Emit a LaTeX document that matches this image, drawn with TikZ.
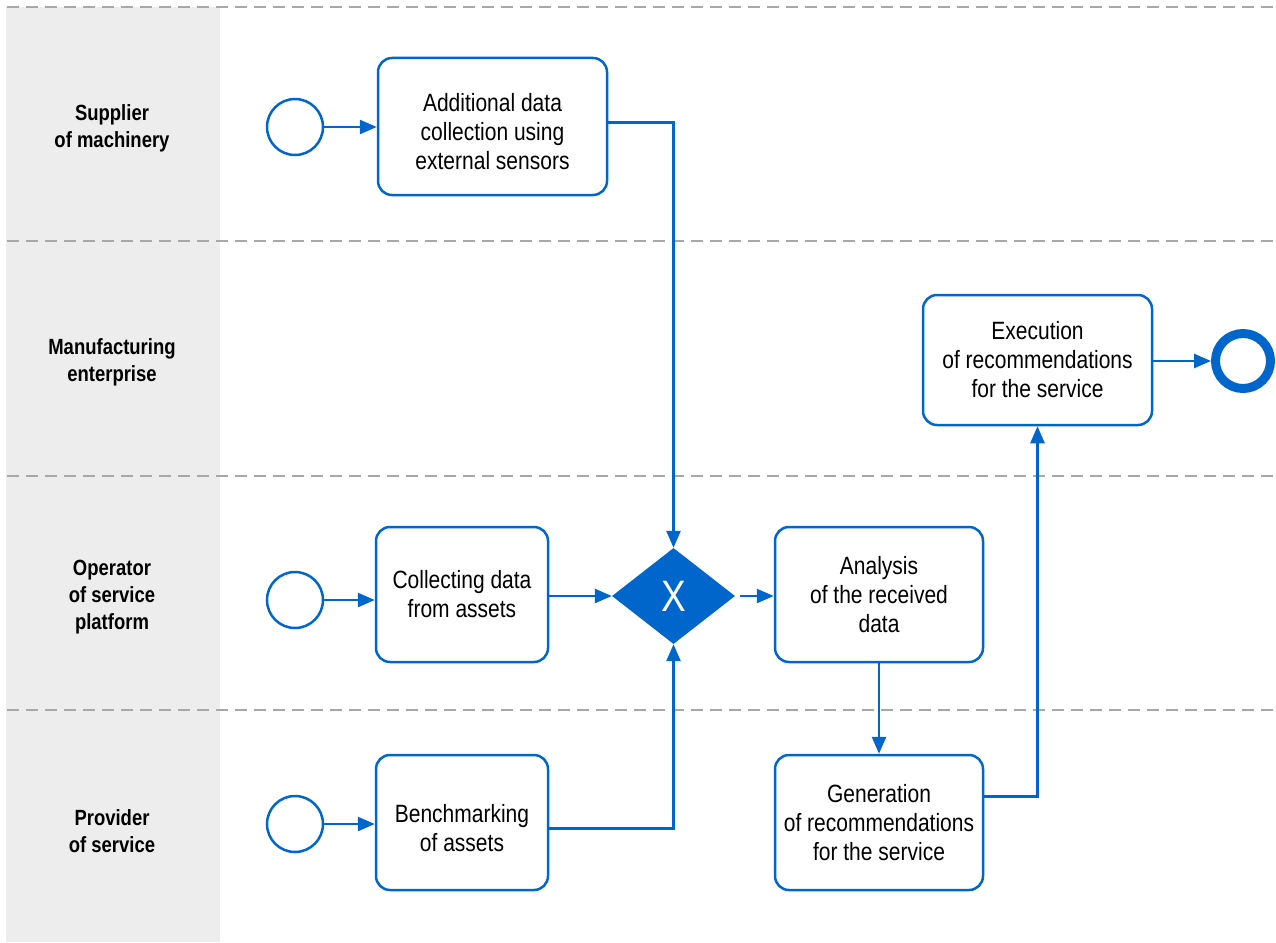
\documentclass[tikz,border=0pt]{standalone}
\usepackage{fontspec}
\setmainfont{Liberation Sans}[FakeStretch=0.84]
\usepackage{xcolor}
\usetikzlibrary{shapes.geometric,arrows.meta,positioning,calc}
\definecolor{bpmnblue}{HTML}{0066CC}
\definecolor{lanegray}{HTML}{ECEDEC}
\definecolor{dashgray}{HTML}{A8A8A8}
\newcommand{\lowstrut}[1]{\rule{0pt}{#1}}

\begin{document}
\begin{tikzpicture}[
    x=1pt, y=-1pt,
    task/.style={rectangle, draw=bpmnblue, line width=2.5pt, rounded corners=14pt, align=center, inner sep=0pt,
        font=\fontsize{25}{29}\selectfont},
    startev/.style={circle, draw=bpmnblue, line width=2.5pt, minimum size=56pt, inner sep=0pt},
    endev/.style={circle, draw=bpmnblue, line width=9pt, minimum size=55pt, inner sep=0pt},
    gate/.style={diamond, fill=bpmnblue, text=white, minimum width=123pt, minimum height=96pt, inner sep=0pt,
        font=\fontsize{44}{44}\selectfont},
    flow/.style={draw=bpmnblue, line width=2.6pt, -{Triangle[length=17pt,width=14pt]}},
    lane/.style={align=center, font=\bfseries\fontsize{22}{27}\selectfont},
    sep/.style={draw=dashgray, line width=2.5pt, dash pattern=on 12pt off 7pt}
]
    \useasboundingbox (0,0) rectangle (1276,942);
    \fill[lanegray] (6,7) rectangle (220,942);

    % Lane separators
    \foreach \y in {7,241,476,710} {
        \draw[sep] (7,\y) -- (1276,\y);
    }

    % Lane names
    \node[lane] (L1) at (112,128) {Supplier\\of machinery};
    \node[lane] (L2) at (112,362.5) {Manufacturing\\enterprise};
    \node[lane] (L3) at (112,597) {Operator\\of service\\platform};
    \node[lane] (L4) at (112,831) {Provider\\of service};

    % Events
    \node[startev] (S1) at (295,127) {};
    \node[startev] (S2) at (295,600) {};
    \node[startev] (S3) at (295,824) {};
    \node[endev] (E1) at (1243,361) {};

    % Tasks
    \node[task, minimum width=229pt, minimum height=137pt] (addData) at (492.5,126.5) {\lowstrut{28pt}Additional data\\collection using\\external sensors};
    \node[task, minimum width=229pt, minimum height=130pt] (exec) at (1037.5,360) {Execution\\of recommendations\\for the service};
    \node[task, minimum width=172pt, minimum height=135pt] (collect) at (462,594.5) {Collecting data\\from assets};
    \node[task, minimum width=208pt, minimum height=135pt] (analysis) at (879,594.5) {Analysis\\of the received\\data};
    \node[task, minimum width=208pt, minimum height=135pt] (gener) at (879,822.5) {Generation\\of recommendations\\for the service};
    \node[task, minimum width=172pt, minimum height=135pt] (bench) at (462,822.5) {\lowstrut{30pt}Benchmarking\\of assets};

    % Gateway
    \node[gate] (gw) at (673.5,596) {\raisebox{-2pt}{X}};

    % Flows
    \draw[flow] (S1) -- (S1 -| addData.west);
    \draw[flow] (S2) -- (S2 -| collect.west);
    \draw[flow] (S3) -- (S3 -| bench.west);
    \draw[flow] ($(addData.east)+(0,-4)$) -| (gw.north);
    \draw[flow] (collect.east |- gw) -- (gw.west);
    \draw[flow] ($(bench.east)+(0,6)$) -| (gw.south);
    \draw[flow, shorten <=5pt] (gw.east) -- (gw -| analysis.west);
    \draw[flow] (analysis.south) -- (gener.north);
    \draw[flow] ($(gener.east)+(0,-26)$) -| (exec.south);
    \draw[flow] (exec.east |- E1) -- (E1.west);
\end{tikzpicture}
\end{document}
